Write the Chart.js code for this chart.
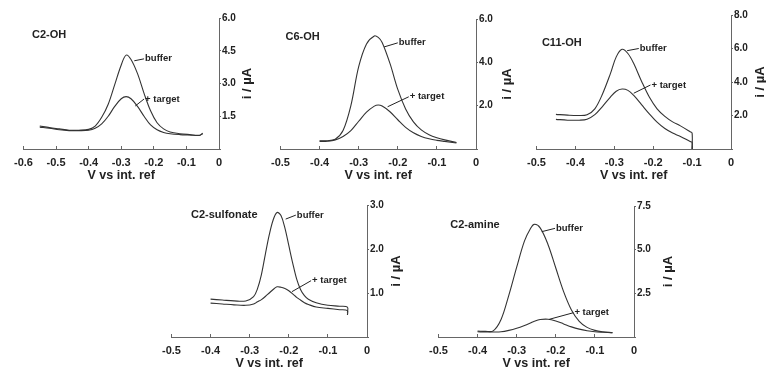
<!DOCTYPE html>
<html>
<head>
<meta charset="utf-8">
<script src="https://cdn.jsdelivr.net/npm/chart.js@4.4.1/dist/chart.umd.min.js"></script>
<style>
  html, body { margin: 0; padding: 0; background: #fff; }
  #wrap { position: relative; width: 766px; height: 370px; overflow: hidden; }
  #wrap canvas { position: absolute; }
</style>
</head>
<body>
<div id="wrap"></div>
<script>
// Potential (V vs int. ref) and current (uA)

// C2-OH
let c2ohVolts  = [-0.55, -0.52, -0.49, -0.46, -0.43, -0.40, -0.38, -0.36, -0.34, -0.32, -0.30, -0.285, -0.27, -0.25, -0.23, -0.21, -0.19, -0.17, -0.15, -0.12, -0.09, -0.06, -0.05];
let c2ohBuffer = [1.05, 0.98, 0.92, 0.86, 0.86, 0.90, 1.05, 1.45, 2.05, 2.95, 3.85, 4.30, 4.10, 3.45, 2.55, 1.75, 1.20, 0.92, 0.78, 0.70, 0.66, 0.63, 0.72];
let c2ohTarget = [1.00, 0.95, 0.88, 0.84, 0.84, 0.86, 0.95, 1.15, 1.50, 1.95, 2.30, 2.40, 2.30, 1.95, 1.50, 1.10, 0.88, 0.76, 0.70, 0.66, 0.64, 0.62, 0.70];

// C6-OH
let c6ohVolts  = [-0.40, -0.38, -0.36, -0.34, -0.32, -0.30, -0.28, -0.26, -0.25, -0.24, -0.22, -0.20, -0.18, -0.16, -0.14, -0.12, -0.10, -0.08, -0.05];
let c6ohBuffer = [0.38, 0.38, 0.45, 0.85, 2.00, 3.80, 4.85, 5.22, 5.15, 4.92, 3.95, 2.75, 1.85, 1.25, 0.88, 0.66, 0.52, 0.42, 0.30];
let c6ohTarget = [0.35, 0.36, 0.42, 0.58, 0.85, 1.28, 1.70, 1.98, 2.03, 1.98, 1.72, 1.35, 1.00, 0.75, 0.58, 0.47, 0.40, 0.35, 0.28];

// C11-OH (scan stops at -0.1 V and drops to zero)
let c11ohVolts  = [-0.45, -0.42, -0.39, -0.37, -0.35, -0.33, -0.31, -0.295, -0.28, -0.265, -0.25, -0.23, -0.21, -0.19, -0.17, -0.15, -0.13, -0.105, -0.10, -0.10];
let c11ohBuffer = [2.07, 2.02, 2.00, 2.05, 2.40, 3.30, 4.50, 5.50, 5.95, 5.70, 5.10, 4.05, 3.10, 2.40, 1.95, 1.62, 1.38, 1.03, 0.95, 0];
let c11ohTarget = [1.77, 1.72, 1.72, 1.78, 2.05, 2.55, 3.10, 3.45, 3.58, 3.50, 3.20, 2.65, 2.10, 1.60, 1.22, 0.95, 0.75, 0.45, 0.40, 0];

// C2-sulfonate
let c2sVolts  = [-0.40, -0.37, -0.34, -0.31, -0.29, -0.28, -0.27, -0.26, -0.25, -0.24, -0.23, -0.22, -0.21, -0.20, -0.19, -0.18, -0.17, -0.16, -0.15, -0.13, -0.10, -0.07, -0.05, -0.05];
let c2sBuffer = [0.86, 0.84, 0.82, 0.82, 0.92, 1.10, 1.42, 1.88, 2.32, 2.66, 2.83, 2.76, 2.48, 2.08, 1.68, 1.32, 1.08, 0.94, 0.86, 0.78, 0.72, 0.70, 0.68, 0.55];
let c2sTarget = [0.77, 0.75, 0.73, 0.72, 0.75, 0.80, 0.85, 0.92, 1.00, 1.08, 1.14, 1.13, 1.10, 1.05, 0.98, 0.90, 0.84, 0.78, 0.74, 0.68, 0.65, 0.62, 0.60, 0.50];

// C2-amine
let c2aVolts  = [-0.40, -0.38, -0.36, -0.34, -0.32, -0.30, -0.28, -0.265, -0.255, -0.24, -0.22, -0.20, -0.18, -0.16, -0.14, -0.12, -0.10, -0.08, -0.055];
let c2aBuffer = [0.34, 0.32, 0.35, 1.00, 2.40, 4.00, 5.50, 6.20, 6.45, 6.25, 5.30, 3.95, 2.60, 1.55, 0.90, 0.55, 0.38, 0.30, 0.25];
let c2aTarget = [0.30, 0.29, 0.29, 0.30, 0.38, 0.50, 0.66, 0.80, 0.90, 1.00, 1.02, 0.92, 0.75, 0.58, 0.45, 0.36, 0.30, 0.27, 0.24];

// Axis ranges
let yMaxes = [6, 6, 8, 3, 7.5];
let ySteps = [1.5, 2, 2, 1, 2.5];
let xMins  = [-0.6, -0.5, -0.5, -0.5, -0.5];

const INK = '#222';
const AXIS = '#666';
const FONT = '"Liberation Sans", Arial, sans-serif';

// Where each plot area sits on the page, plus label anchors in data units
let panels = [
  { name: 'C2-OH', volts: c2ohVolts, buffer: c2ohBuffer, target: c2ohTarget,
    plot: { left: 18, right: 219, top: 18, bottom: 149 }, yGap: 28,
    title: [-0.574, 5.23],
    bufNote: [[-0.26, 4.04], [-0.23, 4.13]], tgtNote: [[-0.257, 1.97], [-0.23, 2.29]] },
  { name: 'C6-OH', volts: c6ohVolts, buffer: c6ohBuffer, target: c6ohTarget,
    plot: { left: 275, right: 476, top: 19, bottom: 149 }, yGap: 31,
    title: [-0.487, 5.15],
    bufNote: [[-0.235, 4.71], [-0.2, 4.9]], tgtNote: [[-0.226, 1.95], [-0.172, 2.41]] },
  { name: 'C11-OH', volts: c11ohVolts, buffer: c11ohBuffer, target: c11ohTarget,
    plot: { left: 531, right: 731, top: 15, bottom: 149 }, yGap: 29,
    title: [-0.486, 6.35],
    bufNote: [[-0.267, 5.87], [-0.237, 6.0]], tgtNote: [[-0.25, 3.33], [-0.207, 3.82]] },
  { name: 'C2-sulfonate', volts: c2sVolts, buffer: c2sBuffer, target: c2sTarget,
    plot: { left: 166, right: 367, top: 205, bottom: 337 }, yGap: 29,
    title: [-0.45, 2.77],
    bufNote: [[-0.208, 2.68], [-0.182, 2.77]], tgtNote: [[-0.192, 1.03], [-0.143, 1.28]] },
  { name: 'C2-amine', volts: c2aVolts, buffer: c2aBuffer, target: c2aTarget,
    plot: { left: 433, right: 634, top: 206, bottom: 337 }, yGap: 34,
    title: [-0.47, 6.41],
    bufNote: [[-0.236, 6.03], [-0.202, 6.22]], tgtNote: [[-0.217, 1.01], [-0.155, 1.39]] }
];

// Draws panel name, leader lines with labels and the rotated y title
function makeNotes(p) {
  return {
    id: 'notes',
    afterDatasetsDraw(chart) {
      let ctx = chart.ctx;
      let sx = chart.scales.x, sy = chart.scales.y;
      let px = (pt) => [sx.getPixelForValue(pt[0]), sy.getPixelForValue(pt[1])];
      ctx.save();
      ctx.fillStyle = INK;
      ctx.strokeStyle = INK;
      ctx.lineWidth = 1;
      ctx.textBaseline = 'middle';
      ctx.textAlign = 'left';

      let t = px(p.title);
      ctx.font = 'bold 11px ' + FONT;
      ctx.fillText(p.name, t[0], t[1]);

      ctx.font = 'bold 9.5px ' + FONT;
      [[p.bufNote, 'buffer'], [p.tgtNote, '+ target']].forEach(([seg, label]) => {
        let a = px(seg[0]), b = px(seg[1]);
        ctx.beginPath();
        ctx.moveTo(a[0], a[1]);
        ctx.lineTo(b[0], b[1]);
        ctx.stroke();
        ctx.fillText(label, b[0] + 1, b[1]);
      });

      let area = chart.chartArea;
      ctx.translate(area.right + p.yGap, (area.top + area.bottom) / 2);
      ctx.rotate(-Math.PI / 2);
      ctx.textAlign = 'center';
      ctx.font = 'bold 13px ' + FONT;
      ctx.fillText('i / \u00b5A', 0, 0);
      ctx.restore();
    }
  };
}

const PAD_L = 14, PAD_T = 8, Y_W = 45, X_H = 34;

window.onload = () => {
  let wrap = document.getElementById('wrap');

  panels.forEach((p, i) => {
    let canvas = document.createElement('canvas');
    let w = p.plot.right - p.plot.left + PAD_L + Y_W;
    let h = p.plot.bottom - p.plot.top + PAD_T + X_H + 2;
    canvas.width = w;
    canvas.height = h;
    canvas.style.left = (p.plot.left - PAD_L) + 'px';
    canvas.style.top = (p.plot.top - PAD_T) + 'px';
    canvas.style.width = w + 'px';
    canvas.style.height = h + 'px';
    wrap.appendChild(canvas);

    let line = (ys) => ({
      data: p.volts.map((v, k) => ({ x: v, y: ys[k] })),
      borderColor: '#333',
      borderWidth: 1.1,
      pointRadius: 0,
      fill: false,
      tension: 0.35
    });

    new Chart(canvas.getContext('2d'), {
      type: 'line',
      data: { datasets: [line(p.buffer), line(p.target)] },
      plugins: [makeNotes(p)],
      options: {
        responsive: false,
        animation: false,
        layout: { padding: { left: PAD_L, top: PAD_T, right: 0, bottom: 2 } },
        plugins: { legend: { display: false }, tooltip: { enabled: false } },
        scales: {
          x: {
            type: 'linear',
            min: xMins[i],
            max: 0,
            grid: { drawOnChartArea: false, tickLength: -3, color: AXIS },
            border: { color: AXIS, width: 1 },
            ticks: {
              stepSize: 0.1,
              autoSkip: false,
              maxRotation: 0,
              padding: 10,
              color: INK,
              font: { family: FONT, size: 11, weight: 'bold' },
              callback: (v) => Math.abs(v) < 1e-9 ? '0' : v.toFixed(1)
            },
            title: {
              display: true,
              text: 'V vs int. ref',
              color: INK,
              padding: { top: 0, bottom: 0 },
              font: { family: FONT, size: 12.5, weight: 'bold' }
            },
            afterFit: (s) => { s.height = X_H; }
          },
          y: {
            position: 'right',
            min: 0,
            max: yMaxes[i],
            grid: { drawOnChartArea: false, tickLength: 2, color: AXIS },
            border: { color: AXIS, width: 1 },
            ticks: {
              stepSize: ySteps[i],
              padding: 1,
              color: INK,
              font: { family: FONT, size: 10, weight: 'bold' },
              callback: (v) => v === 0 ? '' : v.toFixed(1)
            },
            afterFit: (s) => { s.width = Y_W; }
          }
        }
      }
    });
  });
};
</script>
</body>
</html>
